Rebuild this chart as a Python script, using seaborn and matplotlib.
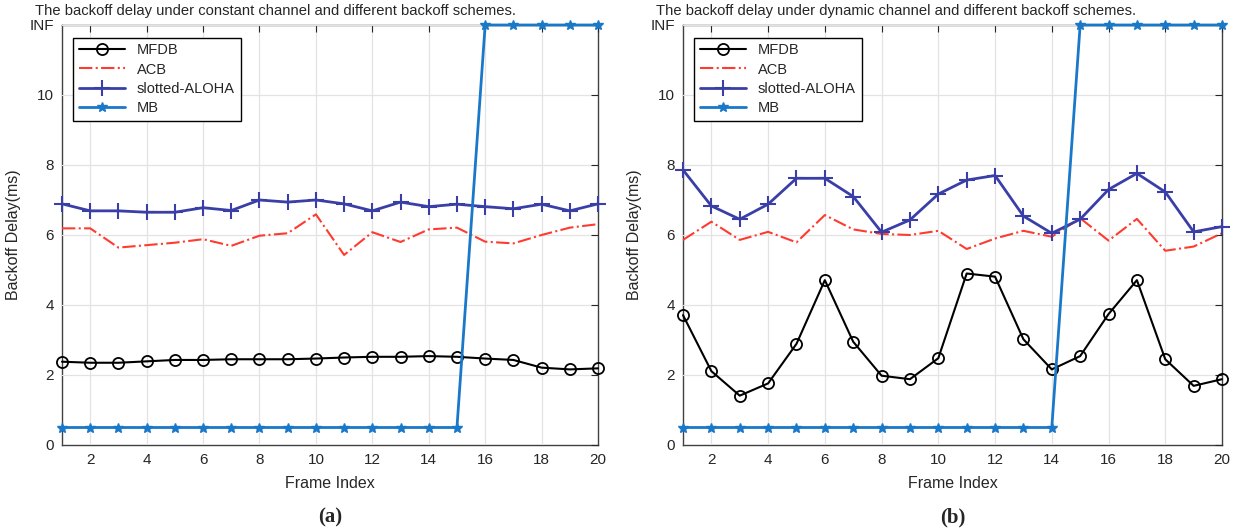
import numpy as np
import pandas as pd
import matplotlib
matplotlib.use("Agg")
import matplotlib.pyplot as plt
import seaborn as sns

sns.set_style("white")
plt.rcParams['font.family'] = ['Liberation Sans', 'DejaVu Sans']

frames = list(range(1, 21))
INF = 12

# (a) constant channel
mfdb_a = [2.38, 2.35, 2.35, 2.39, 2.43, 2.43, 2.45, 2.45, 2.45, 2.47,
          2.50, 2.52, 2.52, 2.54, 2.52, 2.47, 2.43, 2.21, 2.16, 2.19]
acb_a = [6.19, 6.19, 5.64, 5.71, 5.78, 5.88, 5.69, 5.98, 6.05, 6.59,
         5.43, 6.08, 5.80, 6.16, 6.21, 5.81, 5.76, 6.00, 6.21, 6.31]
aloha_a = [6.89, 6.69, 6.69, 6.65, 6.65, 6.78, 6.70, 7.00, 6.94, 7.00,
           6.89, 6.69, 6.94, 6.81, 6.88, 6.81, 6.75, 6.88, 6.69, 6.89]
mb_a = [0.5] * 15 + [INF] * 5

# (b) dynamic channel
mfdb_b = [3.71, 2.11, 1.41, 1.76, 2.89, 4.71, 2.95, 1.98, 1.88, 2.48,
          4.90, 4.81, 3.02, 2.16, 2.54, 3.74, 4.71, 2.45, 1.69, 1.88]
acb_b = [5.86, 6.38, 5.86, 6.09, 5.79, 6.57, 6.16, 6.03, 6.00, 6.12,
         5.60, 5.90, 6.12, 5.95, 6.48, 5.84, 6.46, 5.55, 5.67, 6.05]
aloha_b = [7.86, 6.83, 6.45, 6.88, 7.62, 7.62, 7.10, 6.08, 6.43, 7.17,
           7.57, 7.70, 6.54, 6.05, 6.45, 7.30, 7.76, 7.23, 6.09, 6.24]
mb_b = [0.5] * 14 + [INF] * 6

yticks = [0, 2, 4, 6, 8, 10, 12]
ytick_labels = ['0', '2', '4', '6', '8', '10', 'INF']
xticks = list(range(2, 21, 2))

titles = ["The backoff delay under constant channel and different backoff schemes.",
          "The backoff delay under dynamic channel and different backoff schemes."]
sublabels = ["(a)", "(b)"]

W, H = 1248, 531
fig = plt.figure(figsize=(W / 100, H / 100), dpi=100)

panels = [
    (62, 536, mfdb_a, acb_a, aloha_a, mb_a),
    (683, 539, mfdb_b, acb_b, aloha_b, mb_b),
]

styles = [
    dict(label="MFDB", color="black", linestyle="-", marker="o", markersize=8,
         markerfacecolor="none", markeredgecolor="black", markeredgewidth=1.3,
         linewidth=1.5),
    dict(label="ACB", color="#ff3b30", linestyle="-.", linewidth=1.5),
    dict(label="slotted-ALOHA", color="#3a3fa8", linestyle="-", marker="+",
         markersize=11, markeredgecolor="#3a3fa8", markeredgewidth=1.5,
         linewidth=2.0),
    dict(label="MB", color="#1a78c8", linestyle="-", marker="*", markersize=7,
         markeredgecolor="#1a78c8", markerfacecolor="#1a78c8",
         markeredgewidth=1.0, linewidth=2.0),
]

for i, (left, width, mf, ac, al, mb) in enumerate(panels):
    ax = fig.add_axes([left / W, (H - 445) / H, width / W, 420 / H])
    series = [mf, ac, al, mb]
    for vals, st in zip(series, styles):
        df = pd.DataFrame({"frame": frames, "delay": vals})
        sns.lineplot(data=df, x="frame", y="delay", ax=ax, clip_on=False, **st)
    ax.set_xlim(1, 20)
    ax.set_ylim(0, 12)
    ax.set_xticks(xticks)
    ax.set_yticks(yticks)
    ax.set_yticklabels(ytick_labels)
    ax.grid(True, color="#e3e3e3", linewidth=0.9)
    ax.tick_params(direction="in", top=True, right=True, length=5,
                   labelsize=11, colors="#262626", pad=6)
    for sp in ax.spines.values():
        sp.set_color("#404040")
        sp.set_linewidth(1.0)
        sp.set_zorder(0.5)
    ax.set_xlabel("Frame Index", fontsize=11.5, labelpad=6)
    ax.set_ylabel("Backoff Delay(ms)", fontsize=11.5, labelpad=6)
    ax.text(-27 / width, 1.0 + 7 / 420, titles[i], transform=ax.transAxes,
            ha="left", va="bottom", fontsize=10.6)
    leg = ax.legend(loc="upper left", bbox_to_anchor=(0.02, 0.97),
                    borderaxespad=0, fancybox=False, edgecolor="black",
                    fontsize=10.5, handlelength=3.2, framealpha=1,
                    labelspacing=0.35)
    leg.get_frame().set_linewidth(1.0)
    fig.text((left + width / 2) / W, 1 - 517 / H, sublabels[i],
             ha="center", va="center", fontsize=15, fontweight="bold",
             family=["Liberation Serif", "DejaVu Serif"])

fig.savefig("out.png", dpi=100)
